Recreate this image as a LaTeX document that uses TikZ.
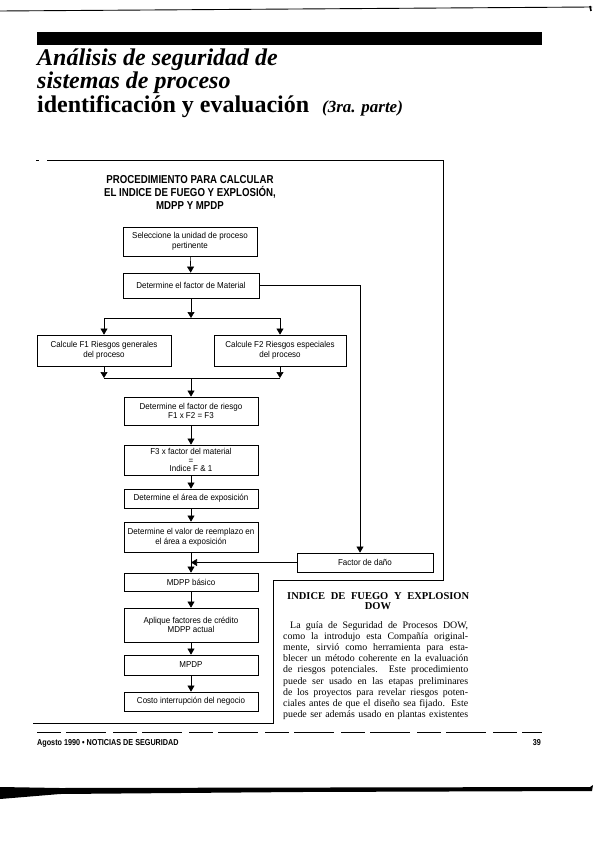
\documentclass[tikz,border=0pt]{standalone}
\usepackage{fontspec}
\setmainfont{Liberation Serif}
\newfontfamily\cond{Liberation Sans}[FakeStretch=0.93]
\newfontfamily\condb{Liberation Sans}[FakeStretch=0.84]
\usetikzlibrary{arrows.meta}
\begin{document}
\begin{tikzpicture}[x=1pt,y=-1pt,
  box/.style={draw, line width=0.8pt, minimum width=134pt, inner sep=1pt, align=center,
    font=\cond\fontsize{8.6}{9.6}\selectfont},
  arr/.style={line width=0.6pt, -{Triangle[width=7pt,length=6pt]}},
  ln/.style={line width=0.6pt},
  frameline/.style={line width=0.8pt},
  para/.style={anchor=base west, inner sep=0pt, font=\fontsize{9.9}{11}\selectfont}]
\useasboundingbox (0,0) rectangle (599,850);
\fill[white] (0,0) rectangle (599,850);
% page rules
\draw[line width=0.9pt] (0,11) -- (592,7);
\draw[line width=1.6pt] (590,6) -- (591,11);
\fill (37,32) rectangle (542,45);
\fill (0,787) -- (60,788) -- (590,787) -- (593,785) -- (592,791) -- (300,792) -- (60,794) -- (0,799) -- cycle;
% title
\node[anchor=base west, inner sep=0pt, font=\bfseries\itshape\fontsize{24}{24}\selectfont] (t1) at (37,66) {Análisis de seguridad de};
\node[anchor=base west, inner sep=0pt, font=\bfseries\itshape\fontsize{24}{24}\selectfont] (t2) at (37,89) {sistemas de proceso};
\node[anchor=base west, inner sep=0pt, font=\bfseries\fontsize{24}{24}\selectfont] (t3) at (37,113) {identificación y evaluación};
\node[anchor=base west, inner sep=0pt, font=\bfseries\itshape\fontsize{17}{17}\selectfont] (t4) at (322,113) {(3ra. parte)};
% frame
\draw[frameline] (36,160) -- (39,160);
\draw[frameline] (47,160) -- (443,160) -- (443,580) -- (273,580) -- (273,723) -- (33,723);
\draw[line width=0.5pt, dash pattern=on 24pt off 5pt on 40pt off 7pt] (37,732) -- (542,732);
% flow title
\node[align=center, inner sep=0pt, anchor=north, font=\condb\bfseries\fontsize{11.5}{13}\selectfont] (ft) at (190,175)
  {PROCEDIMIENTO PARA CALCULAR\\EL INDICE DE FUEGO Y EXPLOSIÓN,\\MDPP Y MPDP};
% boxes
\node[box, minimum height=29pt] (b1) at (190,241.5) {Seleccione la unidad de proceso\\pertinente};
\node[box, minimum height=25pt, minimum width=136pt] (b2) at (191,285.5) {Determine el factor de Material};
\node[box, minimum height=31pt] (f1) at (104,350.5) {Calcule F1 Riesgos generales\\del proceso};
\node[box, minimum height=31pt, minimum width=132pt] (f2) at (280,350.5) {Calcule F2 Riesgos especiales\\del proceso};
\node[box, minimum height=28pt] (b5) at (191,411) {Determine el factor de riesgo\\F1 x F2 = F3};
\node[box, minimum height=30pt, font=\cond\fontsize{8.6}{8.4}\selectfont] (b6) at (191,460) {F3 x factor del material\\=\\Indice F \& 1};
\node[box, minimum height=19pt] (b7) at (191,498.5) {Determine el área de exposición};
\node[box, minimum height=30pt] (b8) at (191,537) {Determine el valor de reemplazo en\\el área a exposición};
\node[box, minimum height=19pt, minimum width=136pt] (fd) at (365,562.5) {Factor de daño};
\node[box, minimum height=18pt] (b10) at (191,582) {MDPP básico};
\node[box, minimum height=34pt] (b11) at (191,625) {Aplique factores de crédito\\MDPP actual};
\node[box, minimum height=20pt] (b12) at (191,665) {MPDP};
\node[box, minimum height=19pt] (b13) at (191,701.5) {Costo interrupción del negocio};
% junction coordinates
\coordinate (sp) at (191,318);
\coordinate (spl) at (104,318);
\coordinate (spr) at (280,318);
\coordinate (mg) at (191,378);
\coordinate (mgl) at (104,378);
\coordinate (mgr) at (280,378);
\coordinate (mc) at (360,285.5);
% connectors
\draw[arr] (b1) -- (b2);
\draw[arr] (b2) -- (sp);
\draw[ln] (spl) -- (spr);
\draw[arr] (spl) -- (f1);
\draw[arr] (spr) -- (f2);
\draw[arr] (f1) -- (mgl);
\draw[arr] (f2) -- (mgr);
\draw[ln] (mgl) -- (mgr);
\draw[arr] (mg) -- (b5);
\draw[arr] (b5) -- (b6);
\draw[arr] (b6) -- (b7);
\draw[arr] (b7) -- (b8);
\draw[arr] (b8) -- (b10);
\draw[arr] (b10) -- (b11);
\draw[arr] (b11) -- (b12);
\draw[arr] (b12) -- (b13);
\draw[arr] (b2.east) -- (mc) -- (mc |- fd.north);
\draw[arr] (fd.west) -- (fd.west -| b8.south);
% text column
\node[anchor=base west, inner sep=0pt, font=\bfseries\fontsize{10.5}{11}\selectfont] (h1) at (287,599)
  {\makebox[182pt][s]{INDICE DE FUEGO Y EXPLOSION}};
\node[anchor=base, inner sep=0pt, font=\bfseries\fontsize{10.5}{11}\selectfont] (h2) at (378,609) {DOW};
\foreach \t [count=\i] in {
  {\hspace*{7pt}La guía de Seguridad de Procesos DOW,},
  {como la introdujo esta Compañía original-},
  {mente, sirvió como herramienta para esta-},
  {blecer un método coherente en la evaluación},
  {de riesgos potenciales. Este procedimiento},
  {puede ser usado en las etapas preliminares},
  {de los proyectos para revelar riesgos poten-},
  {ciales antes de que el diseño sea fijado. Este},
  {puede ser además usado en plantas existentes}}
  \node[para] (p\i) at (283,{628+(\i-1)*11.2}) {\makebox[185pt][s]{\t}};
% footer
\node[anchor=base west, inner sep=0pt, font=\condb\bfseries\fontsize{8.6}{9}\selectfont] (ft1) at (37,745) {Agosto 1990 • NOTICIAS DE SEGURIDAD};
\node[anchor=base east, inner sep=0pt, font=\condb\bfseries\fontsize{8.6}{9}\selectfont] (ft2) at (541,745) {39};
\end{tikzpicture}
\end{document}
